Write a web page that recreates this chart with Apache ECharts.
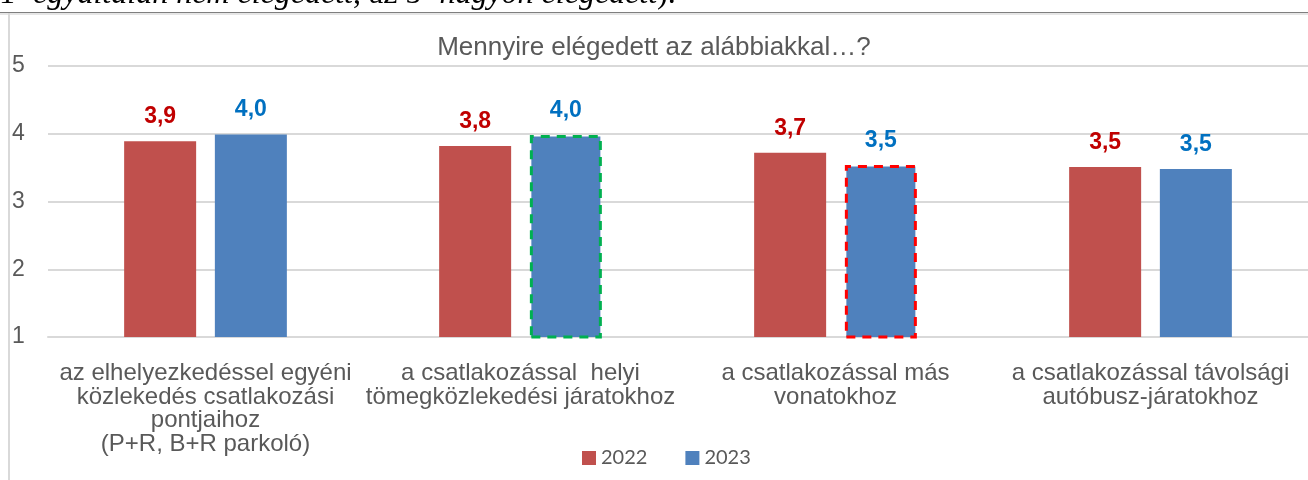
<!DOCTYPE html>
<html>
<head>
<meta charset="utf-8">
<script src="https://cdn.jsdelivr.net/npm/echarts@6/dist/echarts.min.js"></script>
<style>
  html, body { margin: 0; padding: 0; background: #fff; }
  #chart { width: 1308px; height: 480px; }
</style>
</head>
<body>
<div id="chart"></div>
<script>
// kategóriák és értékek (1-5 skála)
const categories = [
  'az elhelyezkedéssel egyéni\nközlekedés csatlakozási\npontjaihoz\n(P+R, B+R parkoló)',
  'a csatlakozással  helyi\ntömegközlekedési járatokhoz',
  'a csatlakozással más\nvonatokhoz',
  'a csatlakozással távolsági\nautóbusz-járatokhoz'
];
const values2022 = [3.89, 3.82, 3.72, 3.51];
const values2023 = [3.99, 3.98, 3.54, 3.48];
const yTicks = [1, 2, 3, 4, 5];

// kiemelt oszlopok keretszíne (2023)
const highlight2023 = [null, '#00B050', '#FF0000', null];

const fmt = v => v.toFixed(1).replace('.', ',');

const chart = echarts.init(document.getElementById('chart'));
chart.setOption({
  animation: false,
  textStyle: { fontFamily: 'Liberation Sans, Arial, sans-serif' },
  title: {
    text: 'Mennyire elégedett az alábbiakkal…?',
    left: 'center',
    top: 30,
    textStyle: { fontSize: 26, fontWeight: 'normal', color: '#595959' }
  },
  graphic: [
    {
      type: 'text',
      left: -1,
      top: -21,
      style: {
        text: '1={i|egyáltalán nem elégedett}, az 5={i|nagyon elégedett}).',
        font: '32px "Liberation Serif", serif',
        fill: '#000',
        rich: { i: { fontStyle: 'italic', fontSize: 32, fontFamily: 'Liberation Serif' } }
      }
    },
    { type: 'line', shape: { x1: 0, y1: 12.5, x2: 1308, y2: 12.5 }, style: { stroke: '#7f7f7f', lineWidth: 1 } },
    { type: 'line', shape: { x1: 0, y1: 14, x2: 1308, y2: 14 }, style: { stroke: '#e6e6e6', lineWidth: 2 } },
    { type: 'line', shape: { x1: 9, y1: 13, x2: 9, y2: 480 }, style: { stroke: '#d9d9d9', lineWidth: 2 } }
  ],
  legend: {
    data: ['2022', '2023'],
    top: 443,
    left: 577,
    itemWidth: 14,
    itemHeight: 14,
    itemGap: 38,
    icon: 'rect',
    textStyle: { fontSize: 20, color: '#595959', fontFamily: 'Lato, Carlito, sans-serif' }
  },
  grid: { left: 48, right: -8, top: 66, height: 271, containLabel: false },
  xAxis: {
    type: 'category',
    data: categories,
    axisLine: { lineStyle: { color: '#d9d9d9', width: 2 } },
    axisTick: { show: false },
    axisLabel: {
      interval: 0,
      color: '#595959',
      fontSize: 24,
      lineHeight: 23.5,
      margin: 25,
      align: 'center'
    }
  },
  yAxis: {
    type: 'value',
    min: yTicks[0],
    max: yTicks[yTicks.length - 1],
    interval: 1,
    axisLine: { show: false },
    axisTick: { show: false },
    splitLine: { lineStyle: { color: '#d9d9d9', width: 2 } },
    axisLabel: {
      color: '#595959',
      fontSize: 23,
      align: 'left',
      margin: 36
    }
  },
  series: [
    {
      name: '2022',
      type: 'bar',
      data: values2022,
      barWidth: 72,
      barGap: '26%',
      itemStyle: { color: '#C0504D' },
      label: {
        show: true,
        position: 'top',
        distance: 13,
        formatter: p => fmt(p.value),
        color: '#C00000',
        fontWeight: 'bold',
        fontSize: 23
      }
    },
    {
      name: '2023',
      type: 'bar',
      barWidth: 72,
      data: values2023.map((v, i) => highlight2023[i]
        ? { value: v, itemStyle: { borderColor: highlight2023[i], borderWidth: 3, borderType: [9, 7] } }
        : v),
      itemStyle: { color: '#4F81BD' },
      label: {
        show: true,
        position: 'top',
        distance: 13,
        formatter: p => fmt(p.value),
        color: '#0070C0',
        fontWeight: 'bold',
        fontSize: 23
      }
    }
  ]
});
</script>
</body>
</html>
